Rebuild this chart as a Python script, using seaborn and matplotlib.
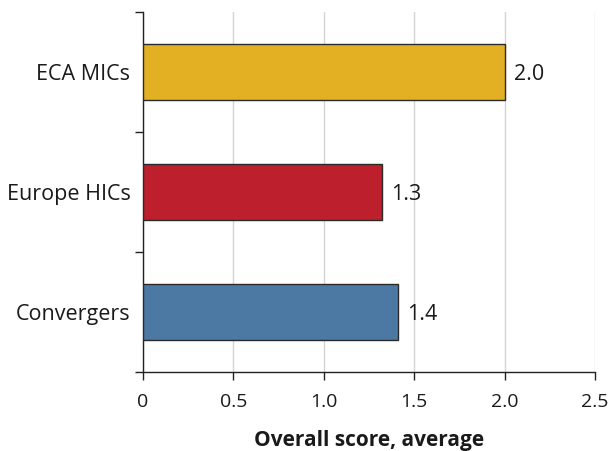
import matplotlib
matplotlib.use("Agg")
import matplotlib.pyplot as plt
import seaborn as sns
import pandas as pd
from matplotlib.ticker import FixedLocator, NullFormatter

groups = ["ECA MICs", "Europe HICs", "Convergers"]
scores = [2.00, 1.32, 1.41]
colors = ["#E3B023", "#BD1F2C", "#4C79A3"]
xticks = [0, 0.5, 1.0, 1.5, 2.0, 2.5]
xtick_labels = ["0", "0.5", "1.0", "1.5", "2.0", "2.5"]

df = pd.DataFrame({"group": groups, "score": scores})

sns.set_theme(style="white")
plt.rcParams["font.family"] = ["Open Sans", "Noto Sans", "DejaVu Sans"]

fig = plt.figure(figsize=(6.09, 4.51), dpi=100)
ax = fig.add_axes([0.2348, 0.1752, 0.9770 - 0.2348, 0.9734 - 0.1752])

sns.barplot(data=df, x="score", y="group", hue="group", palette=colors,
            order=groups, hue_order=groups, legend=False, width=0.46,
            saturation=1, edgecolor="#2a2a2a", linewidth=1.0, ax=ax, zorder=3)

for i, v in enumerate(scores):
    ax.text(v + 0.05, i + 0.02, f"{v:.1f}", va="center", ha="left",
            fontsize=15.5, color="#1a1a1a")

ax.set_xlim(0, 2.5)
ax.set_ylim(2.5, -0.5)
ax.set_xticks(xticks)
ax.set_xticklabels(xtick_labels, fontsize=14, color="#1a1a1a")
ax.xaxis.grid(True, color="#d4d4d4", linewidth=1.0, zorder=0)
ax.set_axisbelow(True)

# Category ticks sit between bars; labels centred on each bar
ax.yaxis.set_major_locator(FixedLocator([-0.5, 0.5, 1.5, 2.5]))
ax.yaxis.set_major_formatter(NullFormatter())
ax.yaxis.set_minor_locator(FixedLocator([0, 1, 2]))
ax.set_yticklabels(groups, minor=True, fontsize=15.5, color="#1a1a1a")
ax.tick_params(axis="y", which="major", left=True, length=6, width=1, color="#222222")
ax.tick_params(axis="y", which="minor", left=False, length=0, pad=9)
ax.tick_params(axis="x", which="major", bottom=True, length=6, width=1,
               color="#222222", pad=9)

for side in ["top", "right"]:
    ax.spines[side].set_visible(False)
for side in ["left", "bottom"]:
    ax.spines[side].set_color("#222222")
    ax.spines[side].set_linewidth(1.0)

ax.set_ylabel("")
ax.set_xlabel("Overall score, average", fontsize=15, fontweight="bold",
              color="#1a1a1a", labelpad=14)

fig.savefig("out.png", dpi=100)
